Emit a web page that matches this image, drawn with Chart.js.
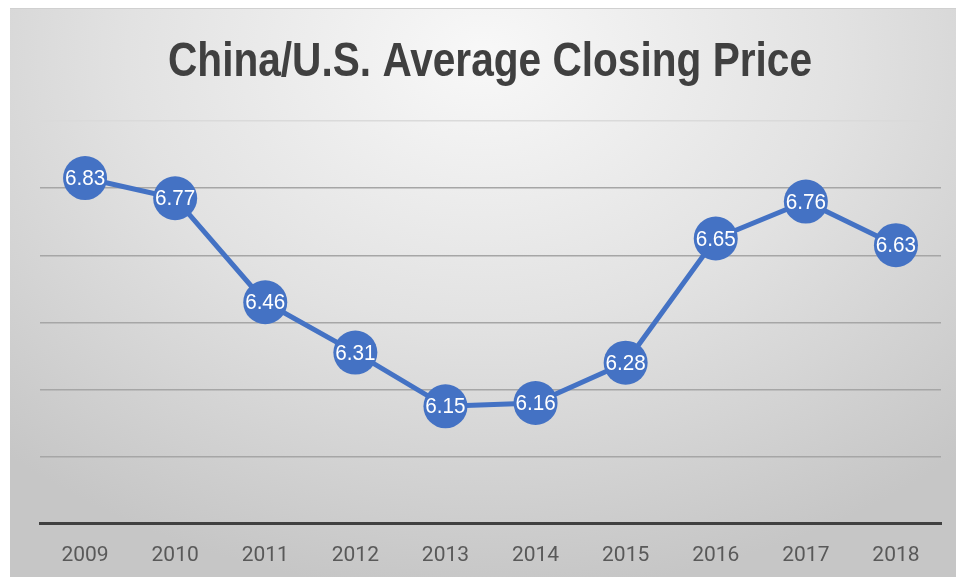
<!DOCTYPE html>
<html>
<head>
<meta charset="utf-8">
<script src="https://cdn.jsdelivr.net/npm/chart.js@4/dist/chart.umd.min.js"></script>
<style>
	html, body { margin: 0; padding: 0; background: #fff; }
	#box {
		position: absolute; left: 10px; top: 8px; width: 946px; height: 568px;
		background: radial-gradient(ellipse 75% 95% at 50% 8%, #f8f8f8 0%, #e2e2e2 50%, #c6c6c6 100%);
		border-top: 1px solid #d0d0d0;
	}
</style>
</head>
<body>
<div id="box"><canvas id="lineChart" width="946" height="568"></canvas></div>
<script>
const years = ['2009', '2010', '2011', '2012', '2013', '2014', '2015', '2016', '2017', '2018'];
const closingPrices = [6.83, 6.77, 6.46, 6.31, 6.15, 6.16, 6.28, 6.65, 6.76, 6.63];
const chartTitle = 'China/U.S. Average Closing Price';
const yMin = 5.8;
const yMax = 7.0;
const yStep = 0.2;

// narrow title, the original uses a condensed face we don't have
const narrowTitle = {
	id: 'narrowTitle',
	afterDraw(chart) {
		const ctx = chart.ctx;
		ctx.save();
		ctx.font = 'bold 48px "Liberation Sans", Arial, sans-serif';
		ctx.fillStyle = '#404040';
		ctx.textAlign = 'center';
		ctx.textBaseline = 'alphabetic';
		const w = ctx.measureText(chartTitle).width;
		const sx = 644 / w;
		ctx.translate(chart.width / 2 + 7, 67);
		ctx.scale(sx, 1);
		ctx.fillText(chartTitle, 0, 0);
		ctx.restore();
	},
};

// draws the value inside each dot
const pointLabels = {
	id: 'pointLabels',
	afterDatasetsDraw(chart) {
		const ctx = chart.ctx;
		const meta = chart.getDatasetMeta(0);
		ctx.save();
		ctx.fillStyle = '#ffffff';
		ctx.font = '22px "Liberation Sans", sans-serif';
		ctx.textAlign = 'center';
		ctx.textBaseline = 'middle';
		meta.data.forEach((pt, i) => {
			ctx.save();
			ctx.translate(pt.x, pt.y + 1);
			ctx.scale(0.94, 1);
			ctx.fillText(closingPrices[i].toFixed(2), 0, 0);
			ctx.restore();
		});
		ctx.restore();
	},
};

const canvas = document.querySelector('#lineChart');
new Chart(canvas, {
	type: 'line',
	data: {
		labels: years,
		datasets: [
			{
				data: closingPrices,
				borderColor: '#4472C4',
				backgroundColor: '#4472C4',
				borderWidth: 5,
				pointRadius: 22,
				pointBorderWidth: 0,
				pointBackgroundColor: '#4472C4',
				tension: 0,
				clip: false,
			},
		],
	},
	options: {
		responsive: false,
		animation: false,
		layout: { autoPadding: false, padding: { left: 30, right: 15, top: 112, bottom: -10 } },
		plugins: {
			legend: { display: false },
			tooltip: { enabled: false },
			title: { display: false },
		},
		scales: {
			x: {
				offset: true,
				grid: { display: false, drawTicks: false },
				border: { display: true, color: '#404040', width: 3 },
				ticks: { color: '#595959', padding: 19, font: { family: 'Roboto, sans-serif', size: 21 } },
			},
			y: {
				min: yMin,
				max: yMax,
				ticks: { display: false, stepSize: yStep },
				border: { display: false },
				grid: {
					drawTicks: false,
					lineWidth: 1.5,
					color: (c) => (c.tick && Math.abs(c.tick.value - yMax) < 0.01 ? '#dadada' : '#a6a6a6'),
				},
			},
		},
	},
	plugins: [pointLabels, narrowTitle],
});
</script>
</body>
</html>
